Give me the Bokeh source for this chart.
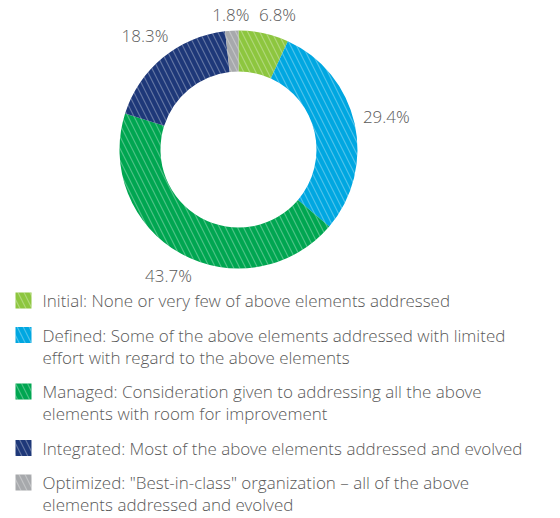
import math
from bokeh.plotting import figure
from bokeh.models import Range1d, ColumnDataSource
from bokeh.core.properties import value
from bokeh.embed import file_html
from bokeh.resources import INLINE

categories = ["Initial", "Defined", "Managed", "Integrated", "Optimized"]
shares = [6.8, 29.4, 43.7, 18.3, 1.8]
colors = ["#8DC63F", "#00A7E1", "#00A651", "#1E3879", "#A7A9AC"]
legend_lines = [
    ["Initial: None or very few of above elements addressed"],
    ["Defined: Some of the above elements addressed with limited",
     "effort with regard to the above elements"],
    ["Managed: Consideration given to addressing all the above",
     "elements with room for improvement"],
    ["Integrated: Most of the above elements addressed and evolved"],
    ["Optimized: \"Best-in-class\" organization \u2013 all of the above",
     "elements addressed and evolved"],
]

W, H = 556, 518
p = figure(width=W, height=H, output_backend="svg", toolbar_location=None,
           x_range=Range1d(0, W), y_range=Range1d(518 - H, 518),
           min_border=0, outline_line_color=None)
p.axis.visible = False
p.grid.visible = False
p.background_fill_color = "white"

FONT = value("'Open Sans Light', 'Open Sans'")

# donut
cx, cy = 238, 518 - 149
r_out, r_in = 119, 78
total = sum(shares)
starts, ends, mids = [], [], []
acc = 0.0
for s in shares:
    a0 = math.pi / 2 - 2 * math.pi * acc / total
    acc += s
    a1 = math.pi / 2 - 2 * math.pi * acc / total
    starts.append(a0)
    ends.append(a1)
    mids.append((a0 + a1) / 2)

src = ColumnDataSource(dict(start=starts, end=ends, color=colors))
p.annular_wedge(x=cx, y=cy, inner_radius=r_in, outer_radius=r_out,
                inner_radius_units="screen", outer_radius_units="screen",
                start_angle="end", end_angle="start", direction="anticlock",
                fill_color="color", line_color=None,
                hatch_pattern="\\", hatch_color="white", hatch_alpha=0.3,
                hatch_scale=12, hatch_weight=1.2, source=src)

# labels: text box just touching a circle outside the ring on the mid angle
R = r_out + 8
hh = 7
pad = 9
lx, ly, lt, lhw, lc = [], [], [], [], []
for s, m in zip(shares, mids):
    t = f"{s:.1f}%"
    hw = 4.7 * len(t)
    c, sn = math.cos(m), math.sin(m)
    d = R + hw * abs(c) + hh * abs(sn)
    lx.append(cx + d * c)
    ly.append(cy + d * sn)
    lt.append(t)
    lhw.append(hw)
    lc.append(c)

# simple collision avoidance: push the more sideways label outward
n = len(lt)
for i in range(n):
    j = (i + 1) % n
    need = lhw[i] + lhw[j] + pad
    if abs(ly[i] - ly[j]) < 2 * hh + 2 and abs(lx[i] - lx[j]) < need:
        k = i if abs(lc[i]) > abs(lc[j]) else j
        o = j if k == i else i
        direction = 1 if lx[k] > lx[o] else -1
        lx[k] = lx[o] + direction * need

p.text(x=lx, y=ly, text=lt, text_font=FONT, text_font_size="17px",
       text_color="#5a5a5a", text_align="center", text_baseline="middle")

# legend
sq_x = 23
y0 = 300
line_h = 22
gap = 34.5
ys, tx, ty, tt = [], [], [], []
y = y0
for lines in legend_lines:
    ys.append(518 - y)
    for k, t in enumerate(lines):
        tx.append(42)
        ty.append(518 - (y + k * line_h))
        tt.append(t)
    y += gap + (len(lines) - 1) * line_h

p.rect(x=[sq_x] * len(ys), y=ys, width=16, height=16,
       width_units="screen", height_units="screen",
       fill_color=colors, line_color=None,
       hatch_pattern="\\", hatch_color="white", hatch_alpha=0.3,
       hatch_scale=12, hatch_weight=1.2)
p.text(x=tx, y=ty, text=tt, text_font=FONT, text_font_size="17px",
       text_color="#5a5a5a", text_align="left", text_baseline="middle")

open("out.html", "w").write(file_html(p, INLINE))
